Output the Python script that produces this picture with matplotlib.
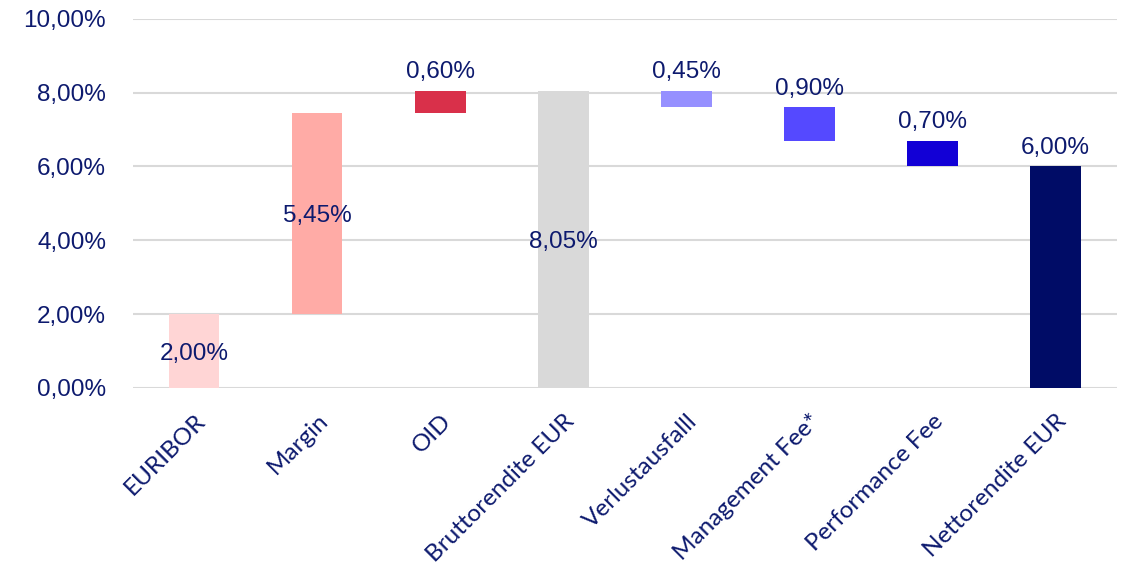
import matplotlib.pyplot as plt

plt.rcParams['font.family'] = ['Liberation Sans', 'DejaVu Sans']

# waterfall data (percent)
categories = ['EURIBOR', 'Margin', 'OID', 'Bruttorendite EUR', 'Verlustausfalll',
              'Management Fee*', 'Performance Fee', 'Nettorendite EUR']
values = [2.00, 5.45, 0.60, 8.05, -0.45, -0.90, -0.70, 6.00]
is_total = [True, False, False, True, False, False, False, True]
colors = ['#FFD5D5', '#FFABA6', '#D9304A', '#D9D9D9', '#9690FF', '#5549FF', '#1200D6', '#000C66']
label_inside = [True, True, False, True, False, False, False, False]

text_col = '#0D1A6E'

# compute bottoms and heights of the floating bars
bottoms, heights = [], []
running = 0.0
for v, tot in zip(values, is_total):
    if tot:
        bottoms.append(0)
        heights.append(v)
        running = v
    else:
        if v >= 0:
            bottoms.append(running)
            heights.append(v)
        else:
            bottoms.append(running + v)
            heights.append(-v)
        running += v

def fmt(v):
    return f'{abs(v):.2f}'.replace('.', ',') + '%'

fig = plt.figure(figsize=(11.24, 5.68), dpi=100)
ax = fig.add_axes([0.118, 0.317, 0.876, 0.65])

x = range(len(categories))
ax.bar(x, heights, bottom=bottoms, width=0.41, color=colors, zorder=3)

for i, (b, h, v) in enumerate(zip(bottoms, heights, values)):
    if label_inside[i]:
        ax.text(i, b + h / 2, fmt(v), ha='center', va='center_baseline', fontsize=17.5,
                color=text_col, zorder=4)
    else:
        ax.text(i, b + h + 0.2, fmt(v), ha='center', va='bottom', fontsize=17.5,
                color=text_col, zorder=4)

ax.set_xlim(-0.5, len(categories) - 0.5)
ax.set_ylim(0, 10)
ax.set_yticks([0, 2, 4, 6, 8, 10])
ax.set_yticklabels([fmt(t) for t in [0, 2, 4, 6, 8, 10]])
ax.set_xticks(list(x))
ax.set_xticklabels(categories, rotation=45, ha='right', rotation_mode='anchor',
                   family=['Lato', 'DejaVu Sans'], fontsize=18.5)
ax.tick_params(axis='both', length=0, labelsize=17.5, labelcolor=text_col)
ax.tick_params(axis='y', pad=19)
ax.tick_params(axis='x', pad=16)
ax.grid(axis='y', color='#D9D9D9', linewidth=1.5, zorder=0)
ax.set_axisbelow(True)
for s in ax.spines.values():
    s.set_visible(False)

fig.savefig('out.png', dpi=100)
